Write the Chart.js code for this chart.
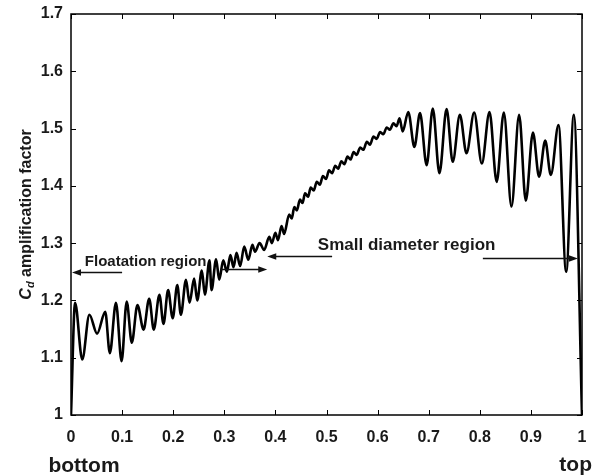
<!DOCTYPE html>
<html>
<head>
<meta charset="utf-8">
<script src="https://cdn.jsdelivr.net/npm/chart.js@4/dist/chart.umd.min.js"></script>
<style>
  html, body { margin: 0; padding: 0; background: #fff; }
  #wrap { width: 593px; height: 476px; }
</style>
</head>
<body>
<div id="wrap"><canvas id="myChart" width="593" height="476"></canvas></div>
<script>
// position along the riser, 0 = bottom, 1 = top
const xValues = [
  0.000, 0.008, 0.022, 0.036, 0.051, 0.067, 0.076, 0.088, 0.099, 0.109,
  0.119, 0.130, 0.142, 0.153, 0.162, 0.173, 0.181, 0.190, 0.199, 0.208,
  0.215, 0.225, 0.232, 0.241, 0.247, 0.256, 0.262, 0.271, 0.275, 0.284,
  0.290, 0.298, 0.305, 0.312, 0.318, 0.324, 0.331, 0.339, 0.347, 0.355,
  0.360, 0.369, 0.378, 0.388, 0.393, 0.400, 0.405, 0.412, 0.417, 0.427,
  0.432, 0.437, 0.442, 0.448, 0.453, 0.458, 0.464, 0.469, 0.475, 0.481,
  0.487, 0.493, 0.499, 0.505, 0.511, 0.517, 0.523, 0.529, 0.535, 0.541,
  0.547, 0.553, 0.559, 0.566, 0.572, 0.579, 0.585, 0.592, 0.598, 0.605,
  0.611, 0.618, 0.624, 0.631, 0.637, 0.643, 0.649, 0.660, 0.672, 0.683,
  0.696, 0.708, 0.721, 0.735, 0.747, 0.761, 0.774, 0.789, 0.804, 0.819,
  0.833, 0.847, 0.862, 0.877, 0.890, 0.904, 0.916, 0.928, 0.939, 0.954,
  0.969, 0.984, 1.000
];
// Cd amplification factor
const cdValues = [
  1.000, 1.196, 1.097, 1.175, 1.142, 1.180, 1.108, 1.196, 1.094, 1.198,
  1.126, 1.192, 1.149, 1.203, 1.149, 1.210, 1.159, 1.218, 1.169, 1.227,
  1.175, 1.236, 1.196, 1.238, 1.200, 1.252, 1.210, 1.270, 1.218, 1.272,
  1.236, 1.270, 1.250, 1.279, 1.258, 1.283, 1.260, 1.294, 1.271, 1.297,
  1.285, 1.300, 1.288, 1.311, 1.300, 1.318, 1.305, 1.330, 1.316, 1.350,
  1.343, 1.363, 1.357, 1.376, 1.370, 1.387, 1.381, 1.397, 1.392, 1.407,
  1.402, 1.417, 1.412, 1.427, 1.422, 1.435, 1.430, 1.443, 1.438, 1.451,
  1.446, 1.459, 1.454, 1.467, 1.463, 1.477, 1.472, 1.486, 1.482, 1.494,
  1.490, 1.502, 1.498, 1.509, 1.504, 1.518, 1.495, 1.529, 1.468, 1.527,
  1.436, 1.535, 1.422, 1.534, 1.442, 1.524, 1.457, 1.528, 1.439, 1.529,
  1.407, 1.528, 1.364, 1.524, 1.374, 1.493, 1.416, 1.479, 1.419, 1.506,
  1.250, 1.524, 1.000
];
const xTicks = [0, 0.1, 0.2, 0.3, 0.4, 0.5, 0.6, 0.7, 0.8, 0.9, 1];
const yTicks = [1, 1.1, 1.2, 1.3, 1.4, 1.5, 1.6, 1.7];

// region labels and arrows (data coordinates)
const regionTexts = [
  { text: 'Floatation region', x: 0.027, y: 1.260, size: 15 },
  { text: 'Small diameter region', x: 0.483, y: 1.288, size: 17 }
];
const regionArrows = [
  { from: [0.100, 1.250], to: [0.002, 1.250] },
  { from: [0.292, 1.255], to: [0.384, 1.255] },
  { from: [0.511, 1.278], to: [0.384, 1.278] },
  { from: [0.806, 1.274], to: [0.992, 1.274] }
];

const FONT = '"Liberation Sans", Arial, sans-serif';

const points = xValues.map((x, i) => ({ x: x, y: cdValues[i] }));

const decorPlugin = {
  id: 'decor',
  afterDatasetsDraw: (chart) => {
    const ctx = chart.ctx;
    const a = chart.chartArea;
    const xs = chart.scales.x;
    const ys = chart.scales.y;
    ctx.save();
    // box
    ctx.strokeStyle = '#000';
    ctx.lineWidth = 1.5;
    ctx.strokeRect(a.left, a.top, a.right - a.left, a.bottom - a.top);
    // inward ticks on all sides
    ctx.lineWidth = 1;
    const tl = 5;
    ctx.beginPath();
    xTicks.forEach(v => {
      const px = Math.round(xs.getPixelForValue(v)) + 0.5;
      ctx.moveTo(px, a.bottom); ctx.lineTo(px, a.bottom - tl);
      ctx.moveTo(px, a.top); ctx.lineTo(px, a.top + tl);
    });
    yTicks.forEach(v => {
      const py = Math.round(ys.getPixelForValue(v)) + 0.5;
      ctx.moveTo(a.left, py); ctx.lineTo(a.left + tl, py);
      ctx.moveTo(a.right, py); ctx.lineTo(a.right - tl, py);
    });
    ctx.stroke();

    // region annotations
    ctx.fillStyle = '#1a1a1a';
    ctx.textBaseline = 'alphabetic';
    ctx.textAlign = 'left';
    regionTexts.forEach(t => {
      ctx.font = 'bold ' + t.size + 'px ' + FONT;
      ctx.fillText(t.text, xs.getPixelForValue(t.x), ys.getPixelForValue(t.y));
    });
    ctx.strokeStyle = '#111';
    ctx.fillStyle = '#111';
    ctx.lineWidth = 1.3;
    regionArrows.forEach(ar => {
      const x1 = xs.getPixelForValue(ar.from[0]);
      const x2 = xs.getPixelForValue(ar.to[0]);
      const y = Math.round(ys.getPixelForValue(ar.from[1])) + 0.5;
      const dir = x2 > x1 ? 1 : -1;
      ctx.beginPath();
      ctx.moveTo(x1, y);
      ctx.lineTo(x2 - dir * 6, y);
      ctx.stroke();
      ctx.beginPath();
      ctx.moveTo(x2, y);
      ctx.lineTo(x2 - dir * 9, y - 3.2);
      ctx.lineTo(x2 - dir * 9, y + 3.2);
      ctx.closePath();
      ctx.fill();
    });

    // bottom / top labels
    ctx.fillStyle = '#1a1a1a';
    ctx.font = 'bold 21px ' + FONT;
    ctx.textAlign = 'center';
    ctx.fillText('bottom', a.left + 13, 472);
    ctx.textAlign = 'right';
    ctx.fillText('top', chart.width - 1, 471);

    // y axis title with subscript
    ctx.translate(25, (a.top + a.bottom) / 2);
    ctx.rotate(-Math.PI / 2);
    const big = 'bold italic 16px ' + FONT;
    const sub = 'bold italic 11px ' + FONT;
    const rest = 'bold 16px ' + FONT;
    const restText = ' amplification factor';
    ctx.font = big; const wC = ctx.measureText('C').width;
    ctx.font = sub; const wD = ctx.measureText('d').width;
    ctx.font = rest; const wR = ctx.measureText(restText).width;
    let cx = -(wC + wD + wR) / 2;
    const base = 6;
    ctx.textAlign = 'left';
    ctx.font = big; ctx.fillText('C', cx, base); cx += wC;
    ctx.font = sub; ctx.fillText('d', cx, base + 3); cx += wD;
    ctx.font = rest; ctx.fillText(restText, cx, base);
    ctx.restore();
  }
};

const ctx = document.getElementById('myChart').getContext('2d');

const myChart = new Chart(ctx, {
  type: 'line',
  plugins: [decorPlugin],
  data: {
    datasets: [{
      label: 'Cd amplification factor',
      data: points,
      borderColor: '#000',
      borderWidth: 2.6,
      pointRadius: 0,
      fill: false,
      cubicInterpolationMode: 'monotone'
    }]
  },
  options: {
    responsive: false,
    animation: false,
    layout: { padding: { left: 0, top: 14, right: 11, bottom: 0 } },
    plugins: {
      legend: { display: false },
      tooltip: { enabled: false }
    },
    scales: {
      x: {
        type: 'linear',
        min: 0,
        max: 1,
        afterFit: (scale) => {
          scale.height = 61;
          scale.paddingLeft = 0;
          scale.paddingRight = 0;
        },
        afterBuildTicks: (scale) => { scale.ticks = xTicks.map(v => ({ value: v })); },
        grid: { display: false, drawTicks: false },
        border: { display: false },
        ticks: {
          padding: 13,
          color: '#1a1a1a',
          font: { family: FONT, size: 16, weight: 'bold' },
          maxRotation: 0,
          callback: (v) => String(+v.toFixed(1))
        }
      },
      y: {
        type: 'linear',
        min: 1,
        max: 1.7,
        afterFit: (scale) => {
          scale.width = 71;
          scale.paddingTop = 0;
          scale.paddingBottom = 0;
        },
        afterBuildTicks: (scale) => { scale.ticks = yTicks.map(v => ({ value: v })); },
        grid: { display: false, drawTicks: false },
        border: { display: false },
        ticks: {
          padding: 8,
          color: '#1a1a1a',
          font: { family: FONT, size: 16, weight: 'bold' },
          callback: (v) => String(+v.toFixed(1))
        }
      }
    }
  }
});
</script>
</body>
</html>
